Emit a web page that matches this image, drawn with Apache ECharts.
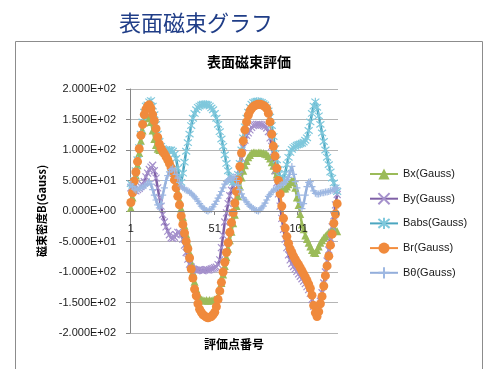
<!DOCTYPE html>
<html>
<head>
<meta charset="utf-8">
<title>表面磁束グラフ</title>
<script src="https://cdn.jsdelivr.net/npm/echarts@6/dist/echarts.min.js"></script>
<style>
  html, body { margin: 0; padding: 0; background: #ffffff; }
  #chart { width: 489px; height: 369px; }
</style>
</head>
<body>
<div id="chart"></div>
<script>
// Evaluation point numbers 1..124
const pointNumbers = Array.from({ length: 124 }, (_, k) => String(k + 1));

const seriesNames = ['Bx(Gauss)', 'By(Gauss)', 'Babs(Gauss)', 'Br(Gauss)', 'Bθ(Gauss)'];

// Surface flux density per evaluation point (Gauss)
const bx = [
  5, 22, 42, 58, 75, 95, 115, 132, 145, 152, 155, 154, 146, 132, 118, 108, 102, 100, 100, 98,
  96, 92, 86, 80, 73, 65, 56, 45, 32, 18, 4, -10, -24, -38, -52, -68, -84, -100, -116, -128,
  -137, -142, -145, -146, -147, -146, -147, -146, -147, -146, -145, -144, -140, -130, -118, -104, -90, -76, -62, -48,
  -34, -20, -6, 8, 24, 40, 55, 66, 75, 82, 88, 92, 95, 96, 96, 95, 96, 96, 95, 95,
  94, 93, 90, 86, 80, 74, 67, 60, 52, 45, 40, 37, 37, 40, 44, 47, 50, 50, 38, 22,
  10, -5, -22, -30, -40, -46, -52, -58, -64, -68, -69, -64, -58, -52, -48, -44, -41, -38, -35, -33,
  -32, -30, -31, -33
];
const by = [
  38, 36, 34, 33, 35, 37, 40, 43, 48, 56, 62, 68, 72, 75, 66, 54, 38, 22, 8, -6,
  -18, -26, -33, -39, -44, -45, -43, -39, -35, -35, -38, -46, -56, -68, -79, -87, -92, -95, -96, -97,
  -97, -96, -97, -98, -97, -96, -97, -96, -95, -94, -93, -92, -88, -80, -60, -40, -18, -3, 12, 25,
  34, 42, 46, 49, 55, 68, 86, 104, 116, 124, 128, 133, 137, 140, 141, 142, 142, 142, 141, 140,
  139, 136, 130, 120, 106, 88, 66, 46, 28, 8, -12, -30, -46, -60, -72, -80, -86, -91, -95, -99,
  -103, -107, -111, -115, -119, -124, -129, -135, -145, -156, -163, -166, -160, -148, -134, -118, -100, -82, -64, -45,
  -26, -8, 10, 27
];
const babs = [
  45, 42, 50, 66, 84, 104, 126, 146, 162, 172, 174, 179, 181, 172, 158, 142, 126, 114, 106, 102,
  100, 99, 99, 100, 100, 98, 93, 86, 70, 55, 47, 62, 80, 98, 112, 126, 140, 152, 160, 166,
  170, 172, 174, 175, 175, 175, 174, 172, 169, 166, 160, 152, 142, 130, 118, 106, 92, 78, 66, 56,
  50, 47, 48, 52, 60, 78, 100, 120, 138, 152, 162, 170, 175, 178, 179, 180, 180, 179, 178, 176,
  174, 170, 164, 154, 140, 122, 102, 84, 68, 56, 50, 52, 62, 76, 88, 96, 101, 104, 106, 108,
  109, 110, 111, 113, 116, 120, 132, 146, 160, 172, 179, 170, 156, 142, 128, 114, 100, 88, 76, 64,
  54, 46, 38, 32
];
const br = [
  14, 30, 49, 64, 81, 102, 124, 142, 158, 167, 172, 174, 168, 158, 148, 135, 121, 110, 103, 98,
  94, 89, 84, 78, 71, 62, 51, 38, 24, 10, -8, -22, -36, -50, -62, -77, -95, -110, -128, -139,
  -152, -161, -166, -170, -172, -174, -175, -174, -173, -170, -166, -157, -145, -131, -117, -100, -84, -68, -52, -35,
  -19, -3, 13, 32, 51, 73, 95, 115, 133, 146, 157, 164, 168, 171, 173, 174, 175, 175, 174, 173,
  171, 168, 160, 146, 126, 106, 90, 70, 50, 28, 8, -12, -28, -42, -53, -62, -68, -74, -79, -84,
  -88, -93, -98, -103, -108, -114, -120, -127, -138, -155, -167, -173, -165, -152, -140, -123, -106, -90, -74, -56,
  -38, -20, -5, 12
];
const btheta = [
  44, 40, 36, 34, 35, 37, 38, 39, 41, 42, 45, 48, 44, 35, 26, 18, 10, 5, 12, 26,
  38, 50, 58, 64, 68, 70, 66, 60, 54, 47, 41, 38, 36, 34, 33, 31, 29, 26, 23, 20,
  16, 12, 8, 5, 3, 1, 0, 2, 3, 7, 11, 16, 21, 26, 32, 38, 44, 48, 51, 53,
  54, 55, 55, 50, 42, 35, 28, 22, 18, 15, 11, 8, 6, 4, 2, 1, 0, 2, 5, 8,
  13, 18, 24, 27, 31, 34, 36, 37, 39, 42, 43, 44, 47, 51, 55, 64, 73, 60, 48, 38,
  26, 14, 4, 12, 26, 40, 47, 48, 40, 33, 29, 28, 28, 29, 30, 30, 31, 31, 32, 33,
  34, 35, 37, 38
];

// Value axis ticks
const yMin = -200, yMax = 200, yStep = 50;
const xLabelStep = 50;

// Plot box (px) — the category axis sits on the zero line, halfway up
const plotTop = 89, plotBottom = 36, plotHeight = 369 - plotTop - plotBottom;
const zeroLift = plotHeight * (0 - yMin) / (yMax - yMin);

const latin = 'Liberation Sans';
const cjk = 'Noto Sans CJK JP';

// Excel-style scientific notation, e.g. 1.500E+02
function sci(v) {
  if (v === 0) return '0.000E+00';
  const sign = v < 0 ? '-' : '';
  const a = Math.abs(v);
  const e = Math.floor(Math.log10(a) + 1e-9);
  const m = a / Math.pow(10, e);
  return sign + m.toFixed(3) + 'E' + (e < 0 ? '-' : '+') + String(Math.abs(e)).padStart(2, '0');
}

const markX = 'path://M0,0L10,10M10,0L0,10';
const markStar = 'path://M1,1L9,9M9,1L1,9M5,0L5,10';
const markPlus = 'path://M5,0L5,10M0,5L10,5';

function lineSeries(name, data, lineColor, symbol, size, markColor, stroked) {
  return {
    name: name,
    type: 'line',
    data: data,
    symbol: symbol,
    symbolSize: size,
    showAllSymbol: true,
    smooth: false,
    lineStyle: { color: lineColor, width: 2.5 },
    itemStyle: stroked
      ? { color: markColor, borderColor: markColor, borderWidth: 1.2 }
      : { color: markColor, borderWidth: 0 },
    emphasis: { disabled: true }
  };
}

const chart = echarts.init(document.getElementById('chart'), null, { renderer: 'canvas' });

chart.setOption({
  animation: false,
  backgroundColor: '#ffffff',
  title: [
    {
      text: '表面磁束グラフ',
      left: 114, top: 7,
      textStyle: { fontFamily: cjk, fontSize: 22, fontWeight: 'normal', color: '#1F3D87' }
    },
    {
      text: '表面磁束評価',
      left: 202, top: 50,
      textStyle: { fontFamily: cjk, fontSize: 14, fontWeight: 'bold', color: '#000000' }
    }
  ],
  graphic: [
    {
      type: 'rect', silent: true, z: -10,
      shape: { x: 15.5, y: 41.5, width: 467, height: 340 },
      style: { fill: 'none', stroke: '#8C8C8C', lineWidth: 1 }
    }
  ],
  grid: { left: 130, right: 151, top: plotTop, bottom: plotBottom, containLabel: false, outerBoundsMode: 'none' },
  legend: {
    orient: 'vertical',
    left: 369, top: 167, padding: 0,
    itemWidth: 28, itemHeight: 14, itemGap: 10.7,
    textStyle: { fontFamily: latin, fontSize: 11, color: '#1a1a1a', lineHeight: 14 },
    data: seriesNames
  },
  xAxis: {
    type: 'category',
    data: pointNumbers,
    boundaryGap: true,
    position: 'bottom',
    offset: -zeroLift,
    z: 5,
    name: '評価点番号',
    nameLocation: 'middle',
    nameGap: 127,
    nameTextStyle: { fontFamily: cjk, fontSize: 12, fontWeight: 'bold', color: '#000000' },
    axisLine: { onZero: false, lineStyle: { color: '#868686', width: 1 } },
    axisTick: { show: true, interval: xLabelStep - 1, length: 4, lineStyle: { color: '#868686' } },
    axisLabel: { interval: xLabelStep - 1, margin: 12, fontFamily: latin, fontSize: 11, color: '#1a1a1a' },
    splitLine: { show: false }
  },
  yAxis: {
    type: 'value',
    min: yMin, max: yMax, interval: yStep,
    name: '磁束密度B(Gauss)',
    nameLocation: 'middle',
    nameGap: 83,
    nameTextStyle: { fontFamily: cjk, fontSize: 11, fontWeight: 'bold', color: '#000000' },
    axisLine: { show: true, lineStyle: { color: '#868686', width: 1 } },
    axisTick: { show: true, length: 4, lineStyle: { color: '#868686' } },
    axisLabel: { formatter: sci, margin: 14, fontFamily: latin, fontSize: 11, color: '#1a1a1a' },
    splitLine: { show: true, lineStyle: { color: '#B5B5B5', width: 1 } }
  },
  series: [
    lineSeries(seriesNames[0], bx, '#9BBB59', 'triangle', 8, '#9BBB59', false),
    lineSeries(seriesNames[1], by, '#7F60A6', markX, 7, '#A591CC', true),
    lineSeries(seriesNames[2], babs, '#4BA6C0', markStar, 8, '#7FC8DC', true),
    lineSeries(seriesNames[3], br, '#F38D3D', 'circle', 9, '#F08A3C', false),
    lineSeries(seriesNames[4], btheta, '#93AEDB', markPlus, 7, '#9EB8E2', true)
  ]
});
</script>
</body>
</html>
